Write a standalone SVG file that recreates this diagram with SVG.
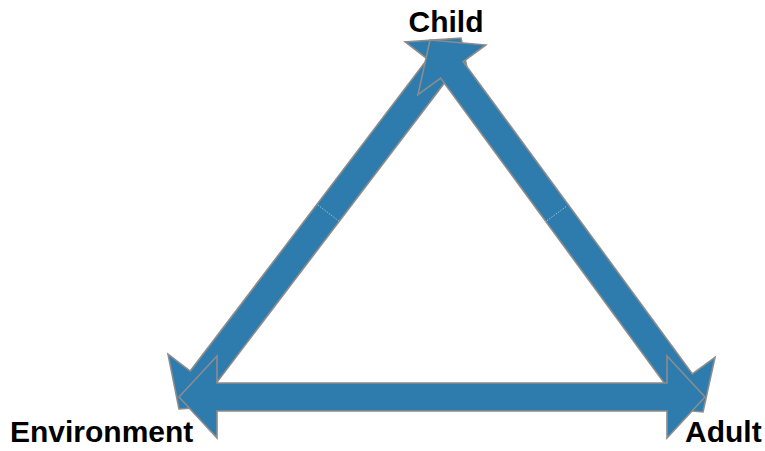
<svg xmlns="http://www.w3.org/2000/svg" width="765" height="451" viewBox="0 0 765 451">
  <style>
    .arrow { fill: #2e7cae; stroke: #8c8c8c; stroke-width: 1.6; stroke-linejoin: miter; }
    .seam { stroke: #a9cfe6; stroke-width: 1; stroke-dasharray: 1.2 1.6; fill: none; }
    .label { font-family: "Liberation Sans", Arial, Helvetica, sans-serif; font-weight: bold; font-size: 30px; fill: #000; }
  </style>
  <rect width="765" height="451" fill="#ffffff"/>
  <g id="connectors">
    <g id="arrow-environment-child">
      <polygon class="arrow" points="179,409 234.8,405 212.5,388 449.8,75.9 472,92.9 461,38 405.2,42 427.5,59 190.2,371.1 168,354.1"/>
      <line class="seam" x1="317.9" y1="205" x2="340.1" y2="222"/>
    </g>
    <g id="arrow-child-adult">
      <polygon class="arrow" points="430,40 485.8,45 463.2,61.6 692.4,373.9 715,357.3 703,412 647.3,407 669.8,390.5 440.6,78.1 418,94.7"/>
      <line class="seam" x1="544.7" y1="222.3" x2="567.3" y2="205.7"/>
    </g>
    <g id="arrow-environment-adult">
      <polygon class="arrow" points="179,397 217,356 217,383 667,383 667,356 705,397 667,438 667,411 217,411 217,438"/>
    </g>
  </g>
  <g id="node-child">
    <text class="label" x="446" y="32" text-anchor="middle">Child</text>
  </g>
  <g id="node-environment">
    <text class="label" x="10" y="442" font-size="29">Environment</text>
  </g>
  <g id="node-adult">
    <text class="label" x="685" y="442">Adult</text>
  </g>
</svg>
